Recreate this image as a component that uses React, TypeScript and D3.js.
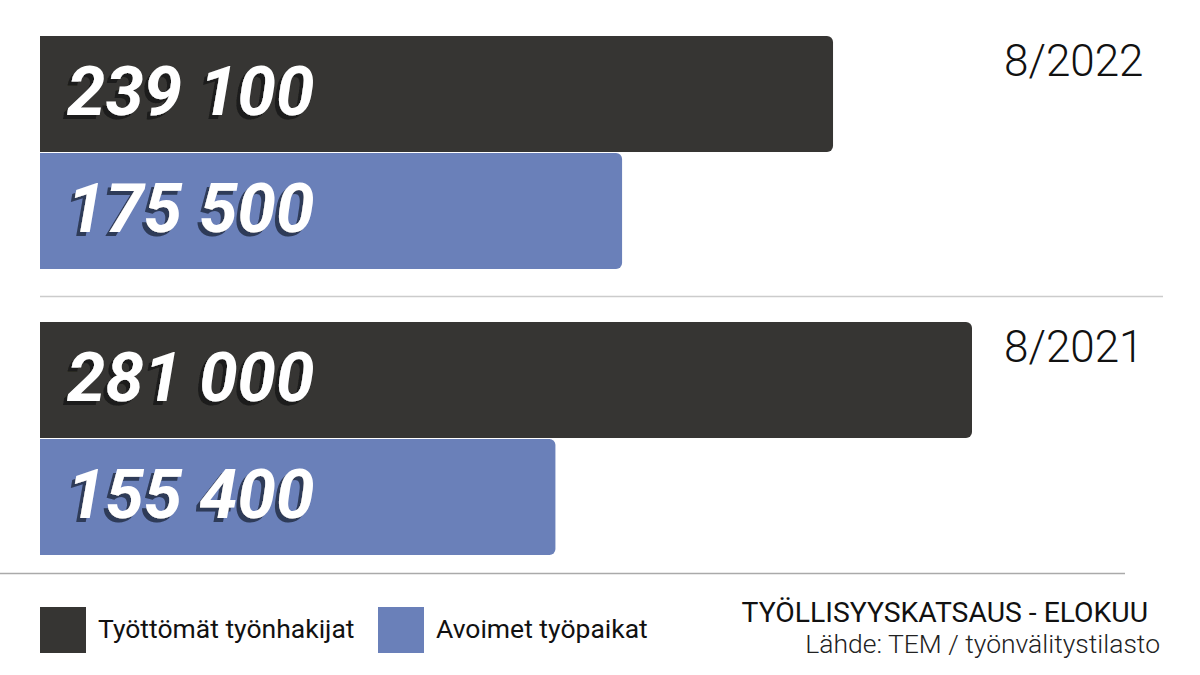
import React from 'react';
import * as d3 from 'd3';

const periods = ['8/2022', '8/2021'];
const series = ['Työttömät työnhakijat', 'Avoimet työpaikat'];
const unemployed = [239100, 281000];
const vacancies = [175500, 155400];
const valueLabels = [['239 100', '175 500'], ['281 000', '155 400']];
const title = 'TYÖLLISYYSKATSAUS - ELOKUU';
const source = 'Lähde: TEM / työnvälitystilasto';

const colors = ['#363533', '#6a80b9'];
const shadows = ['#1b1b1a', '#2e3a58'];

const W = 1200;
const H = 675;

const rightRounded = (x0: number, y0: number, w: number, h: number, r: number) => {
  const p = d3.path();
  p.moveTo(x0, y0);
  p.lineTo(x0 + w - r, y0);
  p.arcTo(x0 + w, y0, x0 + w, y0 + r, r);
  p.lineTo(x0 + w, y0 + h - r);
  p.arcTo(x0 + w, y0 + h, x0 + w - r, y0 + h, r);
  p.lineTo(x0, y0 + h);
  p.closePath();
  return p.toString();
};

const App: React.FC = () => {
  const x = d3.scaleLinear().domain([0, 281000]).range([40, 972]);
  const group = d3.scaleBand<string>().domain(periods).range([36, 555]).paddingInner(53 / 286).paddingOuter(0);
  const sub = d3.scaleBand<number>().domain([0, 1]).range([0, group.bandwidth()]).paddingInner(0.0086);

  const rows = periods.map((p, i) => ({ period: p, values: [unemployed[i], vacancies[i]], labels: valueLabels[i] }));

  return (
    <svg width={W} height={H} style={{ position: 'absolute', left: 0, top: 0 }}>
      <defs>
        {shadows.map((c, i) => (
          <filter key={i} id={`shadow${i}`} x="-10%" y="-20%" width="120%" height="150%">
            <feOffset in="SourceAlpha" dx={-4} dy={4} result="off" />
            <feFlood floodColor={c} />
            <feComposite operator="in" in2="off" result="sh" />
            <feMerge>
              <feMergeNode in="sh" />
              <feMergeNode in="SourceGraphic" />
            </feMerge>
          </filter>
        ))}
      </defs>
      <rect width={W} height={H} fill="#ffffff" />
      {rows.map((row, gi) => {
        const gy = group(row.period) || 0;
        return (
          <g key={row.period}>
            {row.values.map((v, si) => {
              const by = gy + (sub(si) || 0);
              const bh = sub.bandwidth();
              const ty = by + bh / 2 + 21;
              return (
                <g key={si}>
                  <path d={rightRounded(x(0), by, x(v) - x(0), bh, 6)} fill={colors[si]} />
                  <text x={67} y={ty} fill="#ffffff" fontFamily="Roboto" fontWeight={700} fontStyle="italic" fontSize={69} filter={`url(#shadow${si})`}>
                    {row.labels[si]}
                  </text>
                </g>
              );
            })}
            <text x={1004} y={gy + 40} fontFamily="Roboto" fontWeight={300} fontSize={44} fill="#111">
              {row.period}
            </text>
            {gi === 0 && (
              <line x1={40} x2={1163} y1={296.5} y2={296.5} stroke="#cccccc" strokeWidth={1.5} />
            )}
          </g>
        );
      })}
      <line x1={0} x2={1125} y1={573.5} y2={573.5} stroke="#aaaaaa" strokeWidth={1.5} />
      {series.map((s, i) => {
        const lx = i === 0 ? 40 : 378;
        return (
          <g key={s}>
            <rect x={lx} y={607} width={46} height={46} fill={colors[i]} />
            <text x={lx + 58} y={638} fontFamily="Roboto" fontSize={26.5} fill="#111">{s}</text>
          </g>
        );
      })}
      <text x={1148} y={622} textAnchor="end" fontFamily="Roboto" fontSize={28.3} fill="#111">{title}</text>
      <text x={1160} y={653} textAnchor="end" fontFamily="Roboto" fontWeight={300} fontSize={26.5} fill="#222">{source}</text>
    </svg>
  );
};

export default App;
